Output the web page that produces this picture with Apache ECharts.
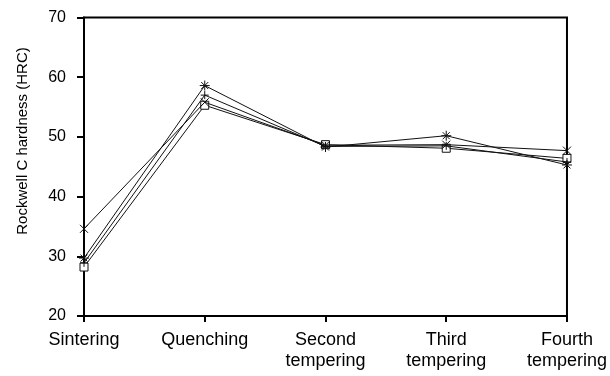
<!DOCTYPE html>
<html>
<head>
<meta charset="utf-8">
<script src="https://cdn.jsdelivr.net/npm/echarts@6/dist/echarts.min.js"></script>
<style>
  html, body { margin: 0; padding: 0; background: #fff; }
  #chart { width: 610px; height: 376px; }
</style>
</head>
<body>
<div id="chart"></div>
<script>
// Heat-treatment stages along the x axis
const stages = ['Sintering', 'Quenching', 'Second\ntempering', 'Third\ntempering', 'Fourth\ntempering'];

// Hardness (HRC) for each specimen after each stage
const hardnessStar   = [29.7, 58.6, 48.3, 50.2, 45.3];
const hardnessCross  = [34.6, 55.8, 48.6, 48.7, 47.7];
const hardnessSquare = [28.2, 55.3, 48.7, 48.1, 46.4];
const hardnessPlus   = [28.9, 57.0, 48.4, 48.5, 45.8];

// Y axis range and step
const yMin = 20, yMax = 70, yStep = 10;

const FONT = '"Liberation Sans", Arial, sans-serif';

// Stroke-only marker shapes
const SYM_STAR   = 'path://M0,5L10,5M5,0L5,10M1.5,1.5L8.5,8.5M8.5,1.5L1.5,8.5';
const SYM_CROSS  = 'path://M0,0L10,10M10,0L0,10';
const SYM_PLUS   = 'path://M0,5L10,5M5,0L5,10';
const SYM_SQUARE = 'path://M0,0L10,0L10,10L0,10Z';

function makeSeries(data, symbol, size, z) {
  return {
    type: 'line',
    data: data,
    symbol: symbol,
    symbolSize: size,
    showAllSymbol: true,
    lineStyle: { color: '#111', width: 1 },
    itemStyle: { color: symbol === SYM_SQUARE ? '#fff' : 'none', borderColor: '#111', borderWidth: 1 },
    emphasis: { disabled: true },
    z: z
  };
}

const chart = echarts.init(document.getElementById('chart'), null, { renderer: 'canvas' });
chart.setOption({
  animation: false,
  backgroundColor: '#fff',
  grid: {
    left: 84, right: 42, top: 17.5, bottom: 60,
    show: true, borderColor: '#000', borderWidth: 2, backgroundColor: 'transparent'
  },
  xAxis: {
    type: 'category',
    data: stages,
    boundaryGap: false,
    axisLine: { lineStyle: { color: '#000', width: 2 } },
    axisTick: { show: true, alignWithLabel: true, length: 6, lineStyle: { color: '#000', width: 2 } },
    axisLabel: {
      color: '#000', fontFamily: FONT, fontSize: 18, lineHeight: 21,
      margin: 14, interval: 0, align: 'center'
    },
    splitLine: { show: false }
  },
  yAxis: {
    type: 'value',
    min: yMin, max: yMax, interval: yStep,
    axisLine: { show: true, lineStyle: { color: '#000', width: 2 } },
    axisTick: { show: true, length: 7, lineStyle: { color: '#000', width: 2 } },
    axisLabel: { color: '#000', fontFamily: FONT, fontSize: 16, margin: 18 },
    splitLine: { show: false }
  },
  graphic: [{
    type: 'text',
    x: 23, y: 141,
    rotation: Math.PI / 2,
    style: {
      text: 'Rockwell C hardness (HRC)',
      fill: '#000',
      font: '15px ' + FONT,
      textAlign: 'center',
      textVerticalAlign: 'middle'
    }
  }],
  series: [
    makeSeries(hardnessStar, SYM_STAR, 10, 4),
    makeSeries(hardnessCross, SYM_CROSS, 8, 4),
    makeSeries(hardnessSquare, SYM_SQUARE, 8, 3),
    makeSeries(hardnessPlus, SYM_PLUS, 8, 5)
  ]
});
</script>
</body>
</html>
